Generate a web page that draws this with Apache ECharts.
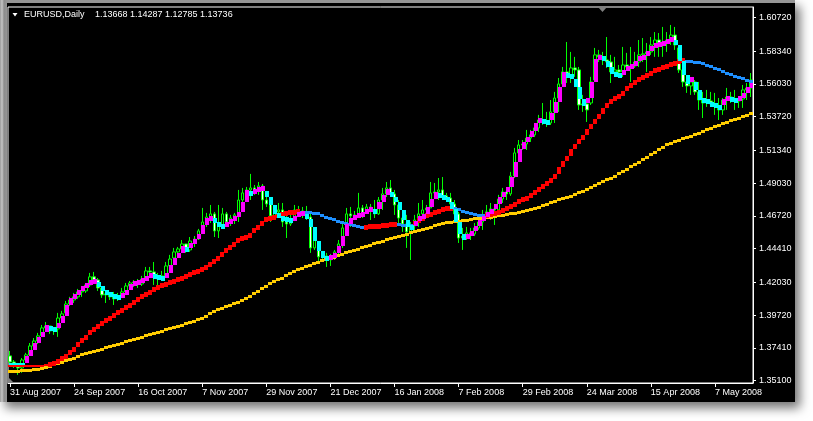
<!DOCTYPE html>
<html>
<head>
<meta charset="utf-8">
<script src="https://cdn.jsdelivr.net/npm/echarts@6/dist/echarts.min.js"></script>
<style>
html,body{margin:0;padding:0;background:#fff;}
#wrap{position:relative;width:813px;height:421px;overflow:hidden;background:#fff;}
#frame{position:absolute;left:0;top:0;width:795px;height:402px;background:linear-gradient(to right,#9a9a9a 0,#c6c6c6 2px,#8c8c8c 4px,#969696 7px);box-shadow:5px 6px 10px rgba(0,0,0,0.55);}
#panel{position:absolute;left:7px;top:3px;width:788px;height:399px;background:#000;}
#chart{position:absolute;left:0;top:0;width:813px;height:421px;}
</style>
</head>
<body>
<div id="wrap"><div id="frame"></div><div id="panel"></div><div id="chart"></div></div>
<script>
// ---- data (EURUSD daily, 31 Aug 2007 - 21 May 2008) ----
const openP = [
1.3685,1.3642,1.3628,1.3600,1.3656,1.3692,1.3755,1.3790,1.3826,1.3882,
1.3896,1.3861,1.3875,1.3952,1.3988,1.4051,1.4079,1.4101,1.4136,1.4143,
1.4185,1.4242,1.4220,1.4164,1.4115,1.4122,1.4101,1.4087,1.4108,1.4136,
1.4178,1.4199,1.4206,1.4192,1.4227,1.4284,1.4277,1.4249,1.4227,1.4249,
1.4319,1.4375,1.4418,1.4439,1.4474,1.4432,1.4495,1.4509,1.4566,1.4629,
1.4664,1.4686,1.4566,1.4601,1.4686,1.4629,1.4657,1.4679,1.4784,1.4834,
1.4855,1.4869,1.4848,1.4883,1.4784,1.4756,1.4672,1.4700,1.4714,1.4629,
1.4615,1.4657,1.4714,1.4707,1.4686,1.4664,1.4446,1.4474,1.4383,1.4390,
1.4361,1.4375,1.4418,1.4474,1.4587,1.4686,1.4672,1.4679,1.4728,1.4693,
1.4735,1.4714,1.4686,1.4784,1.4827,1.4869,1.4827,1.4749,1.4657,1.4615,
1.4559,1.4601,1.4643,1.4686,1.4714,1.4728,1.4834,1.4841,1.4855,1.4813,
1.4798,1.4756,1.4686,1.4516,1.4530,1.4552,1.4545,1.4587,1.4629,1.4679,
1.4700,1.4721,1.4714,1.4791,1.4841,1.4827,1.4953,1.5116,1.5172,1.5179,
1.5221,1.5243,1.5292,1.5348,1.5341,1.5327,1.5405,1.5503,1.5602,1.5687,
1.5666,1.5715,1.5701,1.5454,1.5461,1.5468,1.5630,1.5807,1.5793,1.5771,
1.5757,1.5687,1.5701,1.5687,1.5736,1.5722,1.5729,1.5757,1.5807,1.5814,
1.5828,1.5877,1.5912,1.5884,1.5898,1.5912,1.5947,1.5856,1.5701,1.5616,
1.5588,1.5616,1.5546,1.5489,1.5468,1.5482,1.5461,1.5447,1.5419,1.5489,
1.5510,1.5489,1.5482,1.5496,1.5560,1.5574];
const closeP = [
1.3642,1.3628,1.3600,1.3656,1.3692,1.3755,1.3790,1.3826,1.3882,1.3896,
1.3861,1.3875,1.3952,1.3981,1.4051,1.4079,1.4101,1.4136,1.4143,1.4185,
1.4242,1.4220,1.4164,1.4115,1.4122,1.4101,1.4087,1.4108,1.4136,1.4178,
1.4199,1.4206,1.4192,1.4227,1.4284,1.4277,1.4249,1.4227,1.4249,1.4319,
1.4368,1.4418,1.4439,1.4474,1.4432,1.4495,1.4509,1.4566,1.4629,1.4664,
1.4686,1.4566,1.4601,1.4686,1.4629,1.4657,1.4679,1.4784,1.4834,1.4855,
1.4869,1.4848,1.4883,1.4784,1.4756,1.4672,1.4700,1.4714,1.4629,1.4615,
1.4650,1.4714,1.4707,1.4686,1.4664,1.4446,1.4502,1.4383,1.4390,1.4361,
1.4375,1.4418,1.4474,1.4587,1.4686,1.4672,1.4679,1.4728,1.4693,1.4735,
1.4714,1.4686,1.4784,1.4827,1.4869,1.4827,1.4749,1.4657,1.4615,1.4559,
1.4601,1.4643,1.4686,1.4714,1.4728,1.4834,1.4841,1.4855,1.4813,1.4798,
1.4756,1.4686,1.4516,1.4530,1.4552,1.4545,1.4587,1.4629,1.4679,1.4700,
1.4721,1.4714,1.4791,1.4841,1.4827,1.4953,1.5116,1.5172,1.5179,1.5221,
1.5243,1.5292,1.5348,1.5341,1.5327,1.5405,1.5503,1.5602,1.5687,1.5666,
1.5715,1.5701,1.5454,1.5461,1.5419,1.5616,1.5807,1.5793,1.5771,1.5757,
1.5687,1.5701,1.5687,1.5736,1.5722,1.5729,1.5757,1.5807,1.5814,1.5828,
1.5877,1.5912,1.5884,1.5898,1.5912,1.5947,1.5877,1.5701,1.5616,1.5588,
1.5616,1.5546,1.5489,1.5468,1.5482,1.5461,1.5447,1.5419,1.5489,1.5510,
1.5489,1.5482,1.5496,1.5560,1.5574,1.5630];
const lowP = [
1.3628,1.3600,1.3551,1.3565,1.3642,1.3684,1.3741,1.3769,1.3826,1.3861,
1.3840,1.3833,1.3819,1.3931,1.3988,1.4037,1.4058,1.4087,1.4101,1.4129,
1.4171,1.4199,1.4143,1.4094,1.4058,1.4079,1.4044,1.4072,1.4094,1.4129,
1.4150,1.4171,1.4164,1.4178,1.4220,1.4249,1.4185,1.4171,1.4213,1.4242,
1.4291,1.4375,1.4390,1.4432,1.4411,1.4418,1.4453,1.4502,1.4552,1.4594,
1.4622,1.4523,1.4516,1.4587,1.4594,1.4601,1.4615,1.4629,1.4714,1.4813,
1.4784,1.4820,1.4820,1.4714,1.4735,1.4629,1.4672,1.4679,1.4594,1.4516,
1.4601,1.4657,1.4672,1.4657,1.4643,1.4411,1.4432,1.4347,1.4354,1.4312,
1.4319,1.4361,1.4390,1.4446,1.4559,1.4594,1.4650,1.4672,1.4657,1.4686,
1.4643,1.4657,1.4679,1.4714,1.4805,1.4805,1.4679,1.4608,1.4559,1.4446,
1.4361,1.4552,1.4594,1.4664,1.4664,1.4728,1.4805,1.4784,1.4798,1.4777,
1.4735,1.4664,1.4481,1.4432,1.4502,1.4502,1.4530,1.4573,1.4573,1.4657,
1.4643,1.4608,1.4700,1.4763,1.4784,1.4813,1.4939,1.5087,1.5137,1.5137,
1.5193,1.5228,1.5264,1.5313,1.5299,1.5313,1.5327,1.5405,1.5581,1.5609,
1.5609,1.5652,1.5419,1.5405,1.5334,1.5454,1.5616,1.5757,1.5736,1.5715,
1.5609,1.5666,1.5652,1.5652,1.5701,1.5616,1.5715,1.5722,1.5757,1.5687,
1.5807,1.5793,1.5793,1.5793,1.5828,1.5877,1.5842,1.5680,1.5581,1.5539,
1.5525,1.5525,1.5419,1.5362,1.5440,1.5440,1.5384,1.5348,1.5384,1.5419,
1.5468,1.5419,1.5433,1.5433,1.5489,1.5510];
const highP = [
1.3720,1.3656,1.3635,1.3670,1.3706,1.3776,1.3811,1.3847,1.3903,1.3924,
1.3896,1.3889,1.3988,1.4002,1.4072,1.4101,1.4129,1.4157,1.4157,1.4199,
1.4270,1.4277,1.4234,1.4171,1.4150,1.4136,1.4136,1.4129,1.4164,1.4199,
1.4213,1.4220,1.4227,1.4249,1.4312,1.4312,1.4347,1.4270,1.4284,1.4347,
1.4397,1.4446,1.4453,1.4502,1.4474,1.4523,1.4530,1.4580,1.4728,1.4693,
1.4749,1.4700,1.4749,1.4728,1.4700,1.4679,1.4693,1.4855,1.4869,1.4876,
1.4968,1.4890,1.4911,1.4897,1.4848,1.4805,1.4749,1.4763,1.4763,1.4679,
1.4679,1.4749,1.4742,1.4735,1.4742,1.4700,1.4587,1.4474,1.4425,1.4411,
1.4404,1.4432,1.4502,1.4622,1.4728,1.4735,1.4707,1.4834,1.4749,1.4756,
1.4756,1.4784,1.4805,1.4869,1.4911,1.4925,1.4855,1.4784,1.4700,1.4679,
1.4629,1.4679,1.4763,1.4784,1.4749,1.4911,1.4904,1.4939,1.4946,1.4834,
1.4834,1.4784,1.4700,1.4587,1.4594,1.4587,1.4622,1.4657,1.4714,1.4749,
1.4763,1.4749,1.4820,1.4869,1.4869,1.4982,1.5151,1.5207,1.5207,1.5278,
1.5278,1.5327,1.5384,1.5468,1.5405,1.5489,1.5546,1.5644,1.5722,1.5898,
1.5828,1.5793,1.5722,1.5525,1.5489,1.5652,1.5856,1.5842,1.5828,1.5933,
1.5807,1.5793,1.5736,1.5863,1.5821,1.5863,1.5828,1.5912,1.5926,1.5891,
1.5933,1.5968,1.5961,1.6004,1.5968,1.6018,1.6004,1.5863,1.5722,1.5651,
1.5651,1.5630,1.5616,1.5546,1.5560,1.5546,1.5539,1.5503,1.5503,1.5574,
1.5546,1.5560,1.5503,1.5595,1.5609,1.5679];
// fast average (magenta when rising, cyan when falling)
const fastMA = [
1.3628,1.3628,1.3628,1.3628,1.3670,1.3712,1.3755,1.3797,1.3839,1.3882,
1.3875,1.3868,1.3896,1.3952,1.4023,1.4072,1.4107,1.4135,1.4157,1.4178,
1.4199,1.4206,1.4185,1.4157,1.4135,1.4121,1.4107,1.4100,1.4114,1.4135,
1.4171,1.4192,1.4199,1.4213,1.4234,1.4255,1.4248,1.4241,1.4234,1.4255,
1.4305,1.4354,1.4396,1.4439,1.4432,1.4460,1.4488,1.4530,1.4587,1.4636,
1.4650,1.4636,1.4608,1.4594,1.4608,1.4629,1.4650,1.4685,1.4749,1.4840,
1.4833,1.4847,1.4855,1.4862,1.4826,1.4763,1.4706,1.4678,1.4657,1.4643,
1.4636,1.4657,1.4685,1.4692,1.4671,1.4608,1.4516,1.4439,1.4396,1.4375,
1.4382,1.4396,1.4439,1.4516,1.4594,1.4636,1.4664,1.4678,1.4685,1.4706,
1.4720,1.4706,1.4749,1.4805,1.4847,1.4826,1.4784,1.4728,1.4664,1.4608,
1.4587,1.4615,1.4650,1.4671,1.4714,1.4770,1.4826,1.4819,1.4805,1.4784,
1.4735,1.4643,1.4565,1.4523,1.4530,1.4551,1.4580,1.4622,1.4657,1.4685,
1.4706,1.4735,1.4784,1.4826,1.4855,1.4925,1.5031,1.5129,1.5172,1.5207,
1.5256,1.5306,1.5341,1.5334,1.5327,1.5383,1.5454,1.5560,1.5672,1.5665,
1.5658,1.5595,1.5517,1.5461,1.5482,1.5595,1.5757,1.5792,1.5778,1.5736,
1.5693,1.5672,1.5665,1.5686,1.5708,1.5722,1.5743,1.5778,1.5792,1.5820,
1.5849,1.5870,1.5877,1.5884,1.5898,1.5912,1.5891,1.5785,1.5686,1.5616,
1.5630,1.5574,1.5510,1.5482,1.5475,1.5454,1.5447,1.5433,1.5475,1.5496,
1.5489,1.5482,1.5503,1.5524,1.5560,1.5588];
// medium average (red when rising, blue when falling)
const midMA = [
1.3614,1.3614,1.3614,1.3614,1.3614,1.3614,1.3614,1.3614,1.3614,1.3621,
1.3621,1.3628,1.3642,1.3663,1.3684,1.3706,1.3727,1.3762,1.3790,1.3818,
1.3847,1.3868,1.3889,1.3910,1.3931,1.3952,1.3967,1.3988,1.4002,1.4023,
1.4037,1.4058,1.4079,1.4101,1.4115,1.4129,1.4150,1.4164,1.4178,1.4185,
1.4199,1.4206,1.4220,1.4234,1.4242,1.4256,1.4270,1.4277,1.4291,1.4305,
1.4326,1.4347,1.4375,1.4397,1.4425,1.4446,1.4467,1.4495,1.4509,1.4523,
1.4537,1.4566,1.4587,1.4615,1.4643,1.4650,1.4664,1.4672,1.4679,1.4686,
1.4693,1.4696,1.4700,1.4698,1.4696,1.4693,1.4689,1.4686,1.4675,1.4664,
1.4654,1.4643,1.4633,1.4622,1.4615,1.4608,1.4601,1.4594,1.4587,1.4590,
1.4594,1.4596,1.4599,1.4601,1.4605,1.4608,1.4612,1.4610,1.4607,1.4604,
1.4601,1.4615,1.4636,1.4657,1.4672,1.4682,1.4693,1.4703,1.4714,1.4721,
1.4724,1.4721,1.4714,1.4703,1.4693,1.4686,1.4679,1.4675,1.4672,1.4673,
1.4679,1.4686,1.4696,1.4707,1.4721,1.4735,1.4752,1.4770,1.4784,1.4798,
1.4816,1.4834,1.4855,1.4876,1.4897,1.4922,1.4953,1.4996,1.5038,1.5080,
1.5123,1.5158,1.5193,1.5228,1.5264,1.5299,1.5334,1.5376,1.5412,1.5447,
1.5475,1.5503,1.5517,1.5538,1.5567,1.5588,1.5609,1.5630,1.5651,1.5665,
1.5679,1.5694,1.5704,1.5715,1.5725,1.5736,1.5746,1.5757,1.5764,1.5760,
1.5757,1.5753,1.5750,1.5743,1.5732,1.5722,1.5711,1.5701,1.5690,1.5679,
1.5669,1.5658,1.5648,1.5637,1.5626,1.5616];
// slow average (gold)
const slowMA = [
1.3572,1.3572,1.3576,1.3579,1.3579,1.3583,1.3586,1.3590,1.3593,1.3600,
1.3610,1.3621,1.3628,1.3639,1.3649,1.3660,1.3670,1.3681,1.3692,1.3699,
1.3706,1.3713,1.3720,1.3731,1.3741,1.3748,1.3755,1.3762,1.3773,1.3783,
1.3790,1.3797,1.3804,1.3815,1.3826,1.3833,1.3840,1.3847,1.3858,1.3868,
1.3875,1.3882,1.3889,1.3899,1.3910,1.3917,1.3927,1.3938,1.3952,1.3966,
1.3981,1.3995,1.4009,1.4019,1.4030,1.4040,1.4051,1.4061,1.4075,1.4090,
1.4104,1.4122,1.4139,1.4157,1.4174,1.4192,1.4206,1.4220,1.4234,1.4249,
1.4263,1.4277,1.4291,1.4302,1.4312,1.4323,1.4333,1.4344,1.4354,1.4365,
1.4375,1.4382,1.4390,1.4400,1.4411,1.4418,1.4425,1.4435,1.4446,1.4453,
1.4463,1.4474,1.4481,1.4491,1.4502,1.4509,1.4520,1.4530,1.4537,1.4544,
1.4552,1.4559,1.4566,1.4573,1.4580,1.4590,1.4601,1.4608,1.4615,1.4622,
1.4626,1.4629,1.4633,1.4636,1.4640,1.4647,1.4650,1.4654,1.4657,1.4661,
1.4664,1.4668,1.4672,1.4675,1.4679,1.4686,1.4689,1.4693,1.4700,1.4707,
1.4717,1.4724,1.4731,1.4742,1.4752,1.4763,1.4773,1.4784,1.4794,1.4805,
1.4812,1.4823,1.4834,1.4841,1.4855,1.4869,1.4883,1.4897,1.4911,1.4925,
1.4939,1.4953,1.4971,1.4985,1.4999,1.5017,1.5031,1.5049,1.5066,1.5084,
1.5102,1.5119,1.5137,1.5154,1.5172,1.5182,1.5193,1.5203,1.5214,1.5224,
1.5235,1.5246,1.5256,1.5267,1.5278,1.5288,1.5299,1.5309,1.5320,1.5330,
1.5341,1.5351,1.5362,1.5372,1.5383,1.5397];
const priceTicks = [1.60720,1.58340,1.56030,1.53720,1.51340,1.49030,1.46720,1.44410,1.42030,1.39720,1.37410,1.35100];
const firstDay = '2007-08-31';
const closedDays = ['2007-12-25','2008-01-01'];
const titleName = 'EURUSD,Daily';
const titleQuote = '1.13668 1.14287 1.12785 1.13736';

// ---- categories: trading days ----
const monthNames = ['Jan','Feb','Mar','Apr','May','Jun','Jul','Aug','Sep','Oct','Nov','Dec'];
const categories = [];
let d = new Date(firstDay + 'T00:00:00Z');
while (categories.length < closeP.length) {
  const wd = d.getUTCDay(), iso = d.toISOString().slice(0,10);
  if (wd !== 0 && wd !== 6 && closedDays.indexOf(iso) < 0) {
    categories.push(d.getUTCDate() + ' ' + monthNames[d.getUTCMonth()] + ' ' + d.getUTCFullYear());
  }
  d = new Date(d.getTime() + 86400000);
}

const candles = closeP.map((c, i) => [openP[i], c, lowP[i], highP[i]]);

function dirColors(vals, upC, downC, startC) {
  const out = []; let c = startC;
  for (let i = 0; i < vals.length; i++) {
    if (i > 0) { if (vals[i] > vals[i-1]) c = upC; else if (vals[i] < vals[i-1]) c = downC; }
    out.push(c);
  }
  return out;
}
const fastColors = dirColors(fastMA, '#ff00ff', '#00ffff', '#00ffff');
const midColors = dirColors(midMA, '#ff0000', '#1e90ff', '#ff0000');
const slowColors = slowMA.map(() => '#ffcc00');

function blockSeries(name, vals, colors, thickFn, z, shiftX) {
  return {
    type: 'custom', name: name, z: z, silent: true, clip: true,
    renderItem: function (params, api) {
      const i = api.value(0);
      const c = api.coord([i, vals[i]]);
      const p = api.coord([i, vals[i > 0 ? i - 1 : i]]);
      const bw = api.size([1, 0])[0];
      const t = thickFn(i);
      const tp = thickFn(i > 0 ? i - 1 : i);
      let y0 = c[1] - t / 2, y1 = c[1] + t / 2;
      if (p[1] + tp / 2 < y0) y0 = p[1] + tp / 2;
      if (p[1] - tp / 2 > y1) y1 = p[1] - tp / 2;
      const x0 = Math.round(c[0] - bw / 2 + shiftX), x1 = Math.round(c[0] + bw / 2 + shiftX);
      y0 = Math.round(y0); y1 = Math.round(y1);
      return { type: 'rect', shape: { x: x0, y: y0, width: x1 - x0, height: Math.max(1, y1 - y0) },
               style: { fill: colors[i] } };
    },
    data: vals.map((v, i) => [i, v])
  };
}

const FONT = '"Liberation Sans", Arial, sans-serif';
const chart = echarts.init(document.getElementById('chart'), null, { renderer: 'canvas' });
chart.setOption({
  animation: false,
  backgroundColor: 'transparent',
  grid: { left: 8, top: 7, right: 60, bottom: 38, show: true, borderColor: '#ffffff', borderWidth: 1, backgroundColor: 'transparent' },
  xAxis: {
    type: 'category', data: categories, boundaryGap: true,
    axisLine: { lineStyle: { color: '#ffffff', width: 1 } },
    axisTick: { show: true, interval: 15, length: 4, alignWithLabel: true, lineStyle: { color: '#ffffff' } },
    axisLabel: { interval: 15, color: '#ffffff', fontSize: 9, fontFamily: FONT, align: 'left', margin: 5 },
    splitLine: { show: false }
  },
  yAxis: {
    type: 'value', position: 'right', min: 1.34938, max: 1.61446,
    axisLine: { show: true, lineStyle: { color: '#ffffff', width: 1 } },
    axisTick: { show: true, length: 3, customValues: priceTicks, lineStyle: { color: '#ffffff' } },
    axisLabel: { customValues: priceTicks, formatter: v => v.toFixed(5), color: '#ffffff', fontSize: 9, fontFamily: FONT, margin: 6 },
    splitLine: { show: false }
  },
  series: [
    {
      type: 'candlestick', data: candles, barWidth: 3, z: 2, silent: true,
      itemStyle: { color: '#000000', color0: '#ffffff', borderColor: '#00ff00', borderColor0: '#00ff00', borderColorDoji: '#00ff00', borderWidth: 1 }
    },
    blockSeries('slow', slowMA, slowColors, () => 3, 3, 0),
    blockSeries('mid', midMA, midColors, i => (i < 10 ? 2 : (midColors[i] === '#ff0000' ? 5 : 3)), 4, 0),
    blockSeries('fast', fastMA, fastColors, i => (i < 4 ? 2 : 5), 5, 1)
  ],
  graphic: [
    { type: 'polygon', z: 100, shape: { points: [[12.5, 13], [17.5, 13], [15, 16.5]] }, style: { fill: '#ffffff' } },
    { type: 'text', z: 100, x: 24, y: 15, style: { text: titleName, fill: '#ffffff', font: '9px ' + FONT, verticalAlign: 'middle' } },
    { type: 'text', z: 100, x: 95, y: 15, style: { text: titleQuote, fill: '#ffffff', font: '9px ' + FONT, verticalAlign: 'middle' } },
    { type: 'polygon', z: 100, shape: { points: [[598, 7], [607, 7], [602.5, 12]] }, style: { fill: '#808080' } },
    { type: 'polygon', z: 100, shape: { points: [[8, 377], [14, 383], [8, 383]] }, style: { fill: '#808080' } }
  ]
});
</script>
</body>
</html>
